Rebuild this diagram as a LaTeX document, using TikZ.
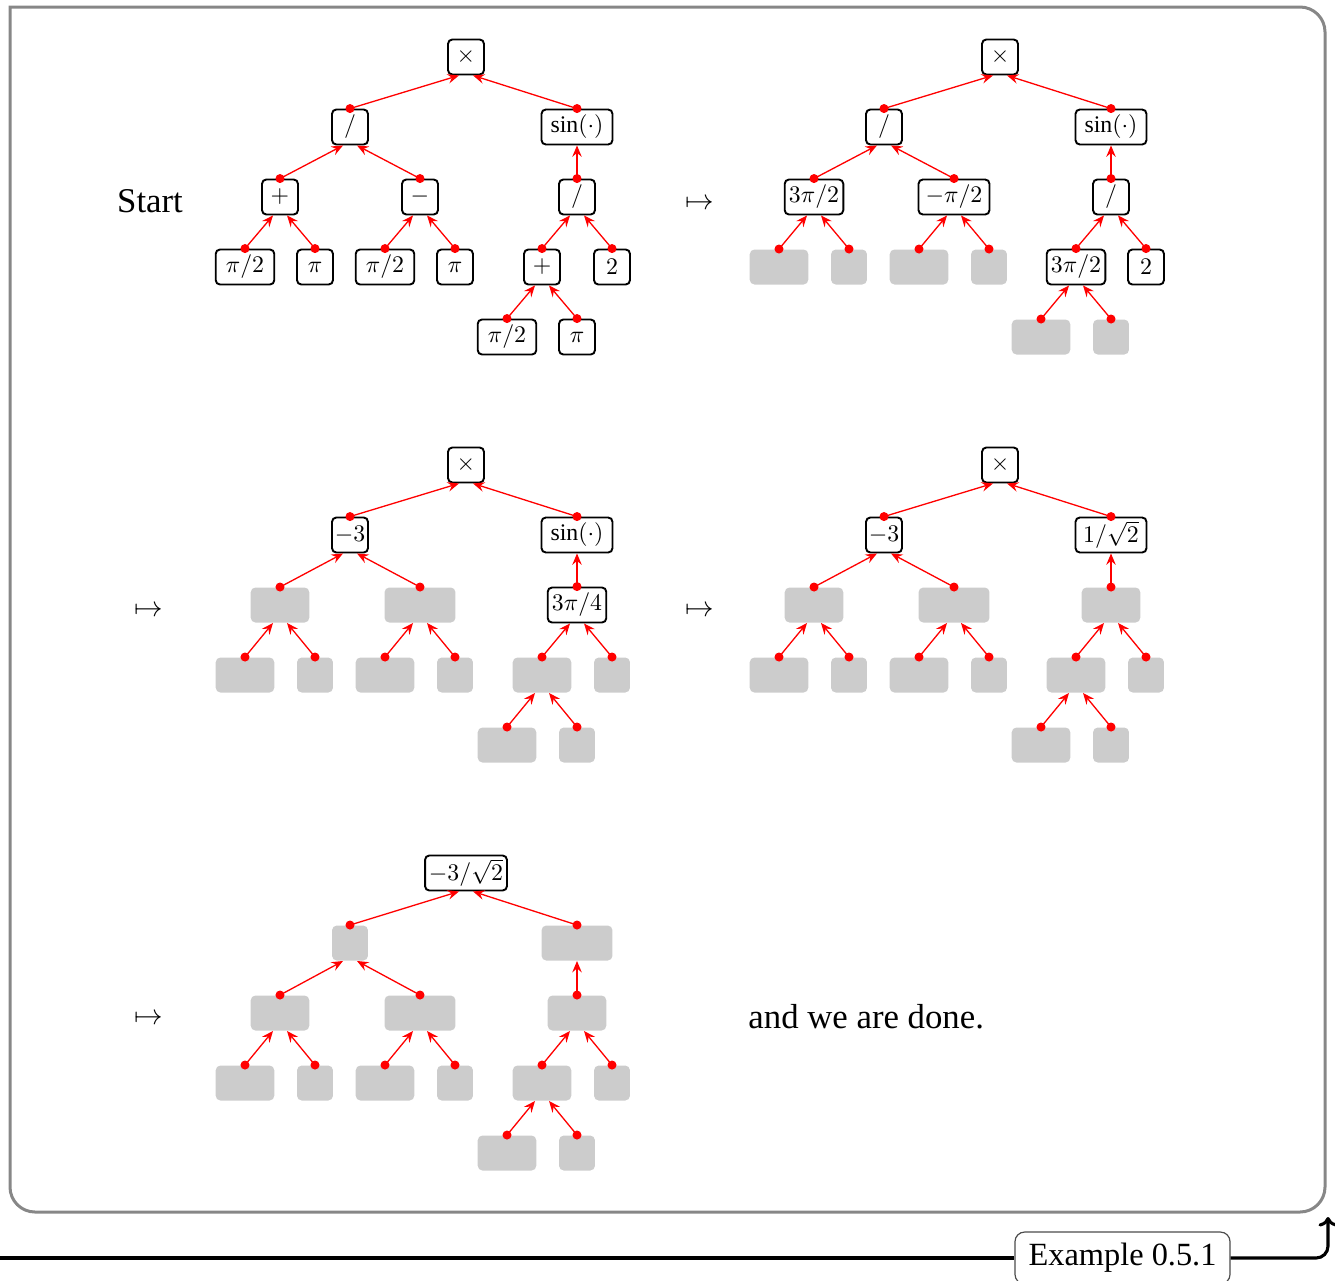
\documentclass[tikz,border=0pt]{standalone}
\usepackage{fontspec}
\setmainfont{Liberation Serif}
\usetikzlibrary{arrows.meta,calc}
\tikzset{
  vb/.style={draw=black, line width=0.8pt, rounded corners=1.8pt, fill=white,
    minimum height=14.7pt, inner xsep=1pt, inner ysep=0pt, text=black},
  gb/.style={fill=black!20, rounded corners=2pt, minimum height=14.7pt, inner sep=0pt},
  ws/.style={minimum width=15.1pt},
  wm/.style={minimum width=24.6pt},
  wl/.style={minimum width=29.8pt},
  wxl/.style={minimum width=34.4pt},
  edgeln/.style={red, line width=0.55pt, -{Stealth[length=4.8pt,width=4pt,inset=1.7pt]}},
  frameln/.style={draw=black!47, line width=1.26pt, rounded corners=10.5pt, line cap=rect},
  bigtext/.style={font=\fontsize{14.6}{17}\selectfont, inner sep=0pt},
  mapsym/.style={font=\fontsize{12}{14}\selectfont, inner sep=0pt}
}
\newcommand{\lnk}[3]{\draw[edgeln] (#1.north) -- ($(#2.south)+(#3,0)$);
  \fill[red] (#1.north) circle[radius=1.9pt];}
\newcommand{\treeedges}[1]{%
  \lnk{#1a}{#1r}{-7}\lnk{#1b}{#1r}{7}\lnk{#1c}{#1a}{-7}\lnk{#1d}{#1a}{7}%
  \lnk{#1e}{#1b}{0}\lnk{#1f}{#1c}{-7}\lnk{#1g}{#1c}{7}\lnk{#1h}{#1d}{-7}%
  \lnk{#1i}{#1d}{7}\lnk{#1j}{#1e}{-7}\lnk{#1k}{#1e}{7}\lnk{#1l}{#1j}{-7}%
  \lnk{#1m}{#1j}{7}}
\begin{document}
\begin{tikzpicture}[x=0.42pt,y=-0.42pt]
\useasboundingbox (0,0) rectangle (1335,1280);
\clip (0,0) rectangle (1335,1280);
% frame
\draw[frameln] (10,7) -- (1325,7) -- (1325,1212) -- (10,1212) -- (10,7);

% ---- Tree A (start)
\begin{scope}[shift={(466,57)}]
\node[vb,ws] (Ar) at (0,0) {$\times$};
\node[vb,ws] (Aa) at (-116,70) {$/$};
\node[vb,wl] (Ab) at (111,70) {$\sin(\cdot)$};
\node[vb,ws] (Ac) at (-186,140) {$+$};
\node[vb,ws] (Ad) at (-46,140) {$-$};
\node[vb,ws] (Ae) at (111,140) {$/$};
\node[vb,wm] (Af) at (-221,210) {$\pi/2$};
\node[vb,ws] (Ag) at (-151,210) {$\pi$};
\node[vb,wm] (Ah) at (-81,210) {$\pi/2$};
\node[vb,ws] (Ai) at (-11,210) {$\pi$};
\node[vb,ws] (Aj) at (76,210) {$+$};
\node[vb,ws] (Ak) at (146,210) {$2$};
\node[vb,wm] (Al) at (41,280) {$\pi/2$};
\node[vb,ws] (Am) at (111,280) {$\pi$};
\end{scope}
\treeedges{A}

% ---- Tree B
\begin{scope}[shift={(1000,57)}]
\node[vb,ws] (Br) at (0,0) {$\times$};
\node[vb,ws] (Ba) at (-116,70) {$/$};
\node[vb,wl] (Bb) at (111,70) {$\sin(\cdot)$};
\node[vb,wm] (Bc) at (-186,140) {$3\pi/2$};
\node[vb,wl] (Bd) at (-46,140) {$-\pi/2$};
\node[vb,ws] (Be) at (111,140) {$/$};
\node[gb,wm] (Bf) at (-221,210) {};
\node[gb,ws] (Bg) at (-151,210) {};
\node[gb,wm] (Bh) at (-81,210) {};
\node[gb,ws] (Bi) at (-11,210) {};
\node[vb,wm] (Bj) at (76,210) {$3\pi/2$};
\node[vb,ws] (Bk) at (146,210) {$2$};
\node[gb,wm] (Bl) at (41,280) {};
\node[gb,ws] (Bm) at (111,280) {};
\end{scope}
\treeedges{B}

% ---- Tree C
\begin{scope}[shift={(466,465)}]
\node[vb,ws] (Cr) at (0,0) {$\times$};
\node[vb,ws] (Ca) at (-116,70) {$-3$};
\node[vb,wl] (Cb) at (111,70) {$\sin(\cdot)$};
\node[gb,wm] (Cc) at (-186,140) {};
\node[gb,wl] (Cd) at (-46,140) {};
\node[vb,wm] (Ce) at (111,140) {$3\pi/4$};
\node[gb,wm] (Cf) at (-221,210) {};
\node[gb,ws] (Cg) at (-151,210) {};
\node[gb,wm] (Ch) at (-81,210) {};
\node[gb,ws] (Ci) at (-11,210) {};
\node[gb,wm] (Cj) at (76,210) {};
\node[gb,ws] (Ck) at (146,210) {};
\node[gb,wm] (Cl) at (41,280) {};
\node[gb,ws] (Cm) at (111,280) {};
\end{scope}
\treeedges{C}

% ---- Tree D
\begin{scope}[shift={(1000,465)}]
\node[vb,ws] (Dr) at (0,0) {$\times$};
\node[vb,ws] (Da) at (-116,70) {$-3$};
\node[vb,wl] (Db) at (111,70) {$1/\sqrt{2}$};
\node[gb,wm] (Dc) at (-186,140) {};
\node[gb,wl] (Dd) at (-46,140) {};
\node[gb,wm] (De) at (111,140) {};
\node[gb,wm] (Df) at (-221,210) {};
\node[gb,ws] (Dg) at (-151,210) {};
\node[gb,wm] (Dh) at (-81,210) {};
\node[gb,ws] (Di) at (-11,210) {};
\node[gb,wm] (Dj) at (76,210) {};
\node[gb,ws] (Dk) at (146,210) {};
\node[gb,wm] (Dl) at (41,280) {};
\node[gb,ws] (Dm) at (111,280) {};
\end{scope}
\treeedges{D}

% ---- Tree E
\begin{scope}[shift={(466,873)}]
\node[vb,wxl] (Er) at (0,0) {$-3/\sqrt{2}$};
\node[gb,ws] (Ea) at (-116,70) {};
\node[gb,wl] (Eb) at (111,70) {};
\node[gb,wm] (Ec) at (-186,140) {};
\node[gb,wl] (Ed) at (-46,140) {};
\node[gb,wm] (Ee) at (111,140) {};
\node[gb,wm] (Ef) at (-221,210) {};
\node[gb,ws] (Eg) at (-151,210) {};
\node[gb,wm] (Eh) at (-81,210) {};
\node[gb,ws] (Ei) at (-11,210) {};
\node[gb,wm] (Ej) at (76,210) {};
\node[gb,ws] (Ek) at (146,210) {};
\node[gb,wm] (El) at (41,280) {};
\node[gb,ws] (Em) at (111,280) {};
\end{scope}
\treeedges{E}

% texts and maps-to symbols
\node[bigtext] (start) at (150,201) {Start};
\node[mapsym] (map1) at (700,204) {$\mapsto$};
\node[mapsym] (map2) at (149,611) {$\mapsto$};
\node[mapsym] (map3) at (700,611) {$\mapsto$};
\node[mapsym] (map4) at (149,1019) {$\mapsto$};
\node[bigtext, anchor=west] (done) at (748,1017) {and we are done.};

% example label
\node[draw=black!70, line width=0.5pt, rounded corners=4pt, fill=white,
  minimum width=90.3pt, minimum height=21.8pt, inner sep=0pt,
  font=\fontsize{13.6}{16}\selectfont] (ex) at (1122.5,1258) {Example 0.5.1};
\coordinate (lstart) at (0,1258);
\coordinate (corner) at (1328,1258);
\coordinate (tip) at (1328,1217);
\draw[line width=1.3pt] (lstart) -- (ex.west);
\draw[line width=1.3pt, rounded corners=5pt, -{To[length=4pt,width=8pt]}] (ex.east) -- (corner) -- (tip);
\end{tikzpicture}
\end{document}
